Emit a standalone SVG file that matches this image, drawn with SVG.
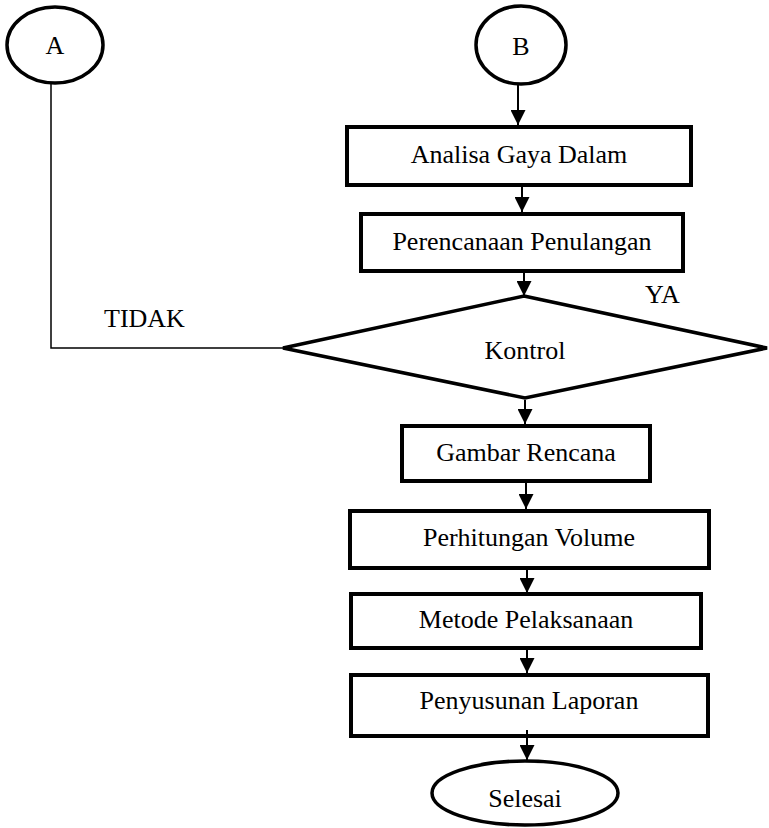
<svg xmlns="http://www.w3.org/2000/svg" width="769" height="828" viewBox="0 0 769 828">
<style>
  .box{fill:#fff;stroke:#000;stroke-width:4}
  .ell{fill:#fff;stroke:#000;stroke-width:3.5}
  .dia{fill:#fff;stroke:#000;stroke-width:3.5;stroke-linejoin:miter}
  .lbl{font-family:"Liberation Serif","Times New Roman",serif;font-size:26px;fill:#000;text-anchor:middle}
  .plain{font-family:"Liberation Serif","Times New Roman",serif;font-size:26px;fill:#000}
  .con{fill:none;stroke:#000;stroke-width:2}
  .thin{fill:none;stroke:#000;stroke-width:1.5}
</style>
<defs>
  <marker id="arr" markerUnits="userSpaceOnUse" markerWidth="15" markerHeight="15" viewBox="0 0 15 15" refX="15" refY="7.5" orient="auto">
    <path d="M0,0 L15,7.5 L0,15 z" fill="#000"/>
  </marker>
</defs>
<rect width="769" height="828" fill="#fff"/>
<g id="nodeA">
  <ellipse class="ell" cx="55" cy="45" rx="48" ry="38"/>
  <text class="lbl" x="55" y="54">A</text>
</g>
<g id="nodeB">
  <ellipse class="ell" cx="521" cy="45" rx="45" ry="39"/>
  <text class="lbl" x="521" y="55">B</text>
</g>
<g id="analisa">
  <rect class="box" x="347" y="127" width="344" height="58"/>
  <text class="lbl" x="519" y="163">Analisa Gaya Dalam</text>
</g>
<g id="perencanaan">
  <rect class="box" x="361" y="214" width="322" height="57"/>
  <text class="lbl" x="522" y="250">Perencanaan Penulangan</text>
</g>
<g id="kontrol">
  <polygon class="dia" points="524,296 767,348 525,398 283,348"/>
  <text class="lbl" x="525" y="359">Kontrol</text>
</g>
<g id="label-ya">
  <text class="plain" x="645" y="303">YA</text>
</g>
<g id="label-tidak">
  <text class="plain" x="104" y="327">TIDAK</text>
</g>
<g id="gambar">
  <rect class="box" x="402" y="426" width="248" height="55"/>
  <text class="lbl" x="526" y="461">Gambar Rencana</text>
</g>
<g id="perhitungan">
  <rect class="box" x="350" y="511" width="359" height="57"/>
  <text class="lbl" x="529" y="546">Perhitungan Volume</text>
</g>
<g id="metode">
  <rect class="box" x="351" y="594" width="350" height="54"/>
  <text class="lbl" x="526" y="628">Metode Pelaksanaan</text>
</g>
<g id="penyusunan">
  <rect class="box" x="351" y="675" width="357" height="61"/>
  <text class="lbl" x="529" y="709">Penyusunan Laporan</text>
</g>
<g id="selesai">
  <ellipse class="ell" cx="525" cy="793" rx="93" ry="32"/>
  <text class="lbl" x="525" y="807">Selesai</text>
</g>
<g id="connectors">
  <line class="con" x1="518" y1="85" x2="518" y2="125" marker-end="url(#arr)"/>
  <line class="con" x1="522" y1="187" x2="522" y2="212" marker-end="url(#arr)"/>
  <line class="con" x1="524" y1="273" x2="524" y2="296" marker-end="url(#arr)"/>
  <line class="con" x1="525" y1="400" x2="525" y2="424" marker-end="url(#arr)"/>
  <line class="con" x1="526" y1="483" x2="526" y2="509" marker-end="url(#arr)"/>
  <line class="con" x1="527" y1="570" x2="527" y2="593" marker-end="url(#arr)"/>
  <line class="con" x1="527" y1="650" x2="527" y2="673" marker-end="url(#arr)"/>
  <line class="con" x1="527" y1="730" x2="527" y2="760" marker-end="url(#arr)"/>
  <polyline class="thin" points="283,348 51,348 51,84"/>
</g>
</svg>
